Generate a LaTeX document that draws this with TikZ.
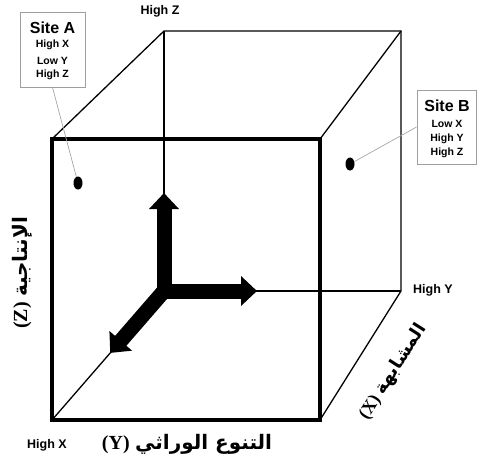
\documentclass[tikz,border=0pt]{standalone}
\usepackage{fontspec}
\setmainfont{Liberation Sans}
\newfontfamily\arabicfont[Script=Arabic]{DejaVu Sans}
\newfontfamily\timesfont{Liberation Serif}
\TeXXeTstate=1
\usetikzlibrary{arrows.meta,calc,shapes.geometric}
\begin{document}
\begin{tikzpicture}[x=1pt,y=-1pt,
  thinedge/.style={line width=1.3pt},
  frontedge/.style={line width=4.5pt, line join=miter},
  bigarrow/.style={line width=15pt, line join=miter},
  sitebox/.style={draw=gray!75, line width=0.9pt, rectangle, inner sep=0pt},
  leader/.style={draw=gray!70, line width=0.7pt},
  sitedot/.style={ellipse, fill=black, minimum width=9pt, minimum height=13pt, inner sep=0pt},
  corner/.style={font=\bfseries\fontsize{12.5}{14}\selectfont, inner sep=0pt},
  sitetitle/.style={font=\bfseries\fontsize{16}{18}\selectfont, inner sep=0pt},
  siteline/.style={font=\bfseries\fontsize{10.5}{12}\selectfont, inner sep=0pt},
  axislabel/.style={font=\bfseries\fontsize{20}{24}\selectfont, inner sep=0pt}
]
\useasboundingbox (0,0) rectangle (477,467);

% cube corners
\coordinate (F1) at (52,139);
\coordinate (F2) at (320,139);
\coordinate (F3) at (320,420);
\coordinate (F4) at (52,420);
\coordinate (B1) at (164,31);
\coordinate (B2) at (401,31);
\coordinate (B3) at (401,291);
\coordinate (B4) at (164,291);

% thin edges
\draw[thinedge] (F1) -- (B1) -- (B2) -- (B3) -- (F3);
\draw[thinedge] (B2) -- (F2);
\draw[thinedge] (B1) -- (B4) -- (B3);
\draw[thinedge] (B4) -- (F4);

% front square
\draw[frontedge] (F1) -- (F2) -- (F3) -- (F4) -- cycle;

% axis arrows
\coordinate (upTip) at (164,193);
\coordinate (rightTip) at (257,291);
\coordinate (diagTip) at ($(B4)!0.48!(F4)$);
\draw[bigarrow, {Triangle[width=29pt,length=16pt]}-{Triangle[width=29pt,length=16pt]}] (upTip) -- (B4) -- (rightTip);
\draw[bigarrow, -{Triangle[width=29pt,length=16pt]}] (B4) -- (diagTip);

% corner labels
\node[corner] (hz) at (160,11) {High Z};
\node[corner] (hy) at (433,290) {High Y};
\node[corner] (hx) at (47,445) {High X};

% site A
\node[sitebox, minimum width=65pt, minimum height=75pt] (boxA) at (52.5,49.5) {};
\node[sitetitle] (tA) at (52.5,28) {Site A};
\node[siteline] (a1) at (52.5,45) {High X};
\node[siteline] (a2) at (52.5,61) {Low Y};
\node[siteline] (a3) at (52.5,75) {High Z};
\node[sitedot] (dotA) at (78,183) {};
\draw[leader] (boxA.south) -- (dotA);

% site B
\node[sitebox, minimum width=59pt, minimum height=74pt] (boxB) at (446.5,127) {};
\node[sitetitle] (tB) at (447,106) {Site B};
\node[siteline] (b1) at (447,124) {Low X};
\node[siteline] (b2) at (447,139) {High Y};
\node[siteline] (b3) at (447,153) {High Z};
\node[sitedot] (dotB) at (350,164) {};
\draw[leader] (dotB) -- (boxB.west);

% axis labels
\node[axislabel] (ylab) at (187,444) {{\timesfont (Y)} {\arabicfont\beginR التنوع الوراثي\endR}};
\node[axislabel, rotate=90] (zlab) at (22,273) {{\timesfont (Z)} {\arabicfont\beginR الإنتاجية\endR}};
\node[axislabel, rotate=57.5, font=\bfseries\fontsize{18}{22}\selectfont] (xlab) at (393,372) {{\timesfont (X)} {\arabicfont\beginR المشابهة\endR}};
\end{tikzpicture}
\end{document}
